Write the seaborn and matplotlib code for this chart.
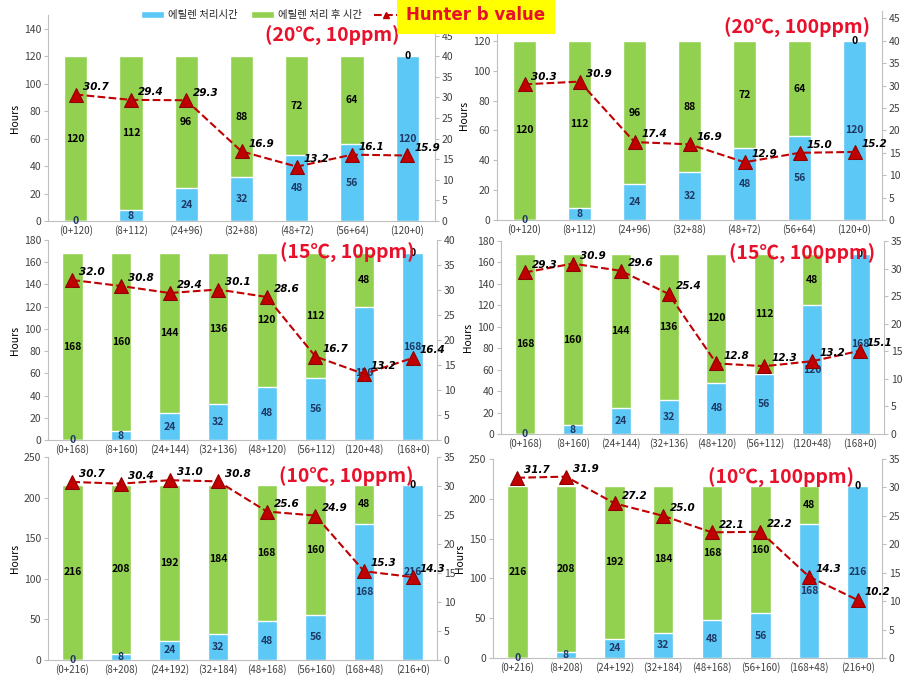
import numpy as np
import pandas as pd
import matplotlib
matplotlib.use("Agg")
import matplotlib.pyplot as plt
import seaborn as sns
from matplotlib.patches import Patch
from matplotlib.lines import Line2D

sns.set_style("white")
plt.rcParams["font.family"] = ["Noto Sans CJK KR", "DejaVu Sans"]

BLUE = "#5BC8F5"
GREEN = "#92D050"
RED = "#C00000"
GRAY = "#404040"

# --- data ---
cats_120 = ["(0+120)", "(8+112)", "(24+96)", "(32+88)", "(48+72)", "(56+64)", "(120+0)"]
eth_120 = [0, 8, 24, 32, 48, 56, 120]
post_120 = [120, 112, 96, 88, 72, 64, 0]

cats_168 = ["(0+168)", "(8+160)", "(24+144)", "(32+136)", "(48+120)", "(56+112)", "(120+48)", "(168+0)"]
eth_168 = [0, 8, 24, 32, 48, 56, 120, 168]
post_168 = [168, 160, 144, 136, 120, 112, 48, 0]

cats_216 = ["(0+216)", "(8+208)", "(24+192)", "(32+184)", "(48+168)", "(56+160)", "(168+48)", "(216+0)"]
eth_216 = [0, 8, 24, 32, 48, 56, 168, 216]
post_216 = [216, 208, 192, 184, 168, 160, 48, 0]

b_20_10 = [30.7, 29.4, 29.3, 16.9, 13.2, 16.1, 15.9]
b_20_100 = [30.3, 30.9, 17.4, 16.9, 12.9, 15.0, 15.2]
b_15_10 = [32.0, 30.8, 29.4, 30.1, 28.6, 16.7, 13.2, 16.4]
b_15_100 = [29.3, 30.9, 29.6, 25.4, 12.8, 12.3, 13.2, 15.1]
b_10_10 = [30.7, 30.4, 31.0, 30.8, 25.6, 24.9, 15.3, 14.3]
b_10_100 = [31.7, 31.9, 27.2, 25.0, 22.1, 22.2, 14.3, 10.2]

W, H = 914, 694


def rect(l, t, r, b):
    return [l / W, 1 - b / H, (r - l) / W, (b - t) / H]


panels = [
    dict(title="(20℃, 10ppm)", cats=cats_120, eth=eth_120, post=post_120, b=b_20_10,
         rect=rect(48, 15, 435, 221), ylim=150, yticks=range(0, 141, 20),
         y2lim=50, y2ticks=range(0, 46, 5), tpos=(0.734, 0.90)),
    dict(title="(20℃, 100ppm)", cats=cats_120, eth=eth_120, post=post_120, b=b_20_100,
         rect=rect(497, 11, 882, 220), ylim=140, yticks=range(0, 121, 20),
         y2lim=140 / 3, y2ticks=range(0, 46, 5), tpos=(0.779, 0.92)),
    dict(title="(15℃, 10ppm)", cats=cats_168, eth=eth_168, post=post_168, b=b_15_10,
         rect=rect(48, 240, 437, 440), ylim=180, yticks=range(0, 181, 20),
         y2lim=40, y2ticks=range(0, 41, 5), tpos=(0.769, 0.935)),
    dict(title="(15℃, 100ppm)", cats=cats_168, eth=eth_168, post=post_168, b=b_15_100,
         rect=rect(501, 241, 884, 434), ylim=180, yticks=range(0, 181, 20),
         y2lim=35, y2ticks=range(0, 36, 5), tpos=(0.786, 0.935)),
    dict(title="(10℃, 10ppm)", cats=cats_216, eth=eth_216, post=post_216, b=b_10_10,
         rect=rect(48, 457, 437, 660), ylim=250, yticks=range(0, 251, 50),
         y2lim=35, y2ticks=range(0, 36, 5), tpos=(0.766, 0.90)),
    dict(title="(10℃, 100ppm)", cats=cats_216, eth=eth_216, post=post_216, b=b_10_100,
         rect=rect(493, 459, 882, 658), ylim=250, yticks=range(0, 251, 50),
         y2lim=35, y2ticks=range(0, 36, 5), tpos=(0.74, 0.905)),
]

fig = plt.figure(figsize=(W / 100, H / 100), dpi=100)

for p in panels:
    ax = fig.add_axes(p["rect"])
    df = pd.DataFrame({"cat": p["cats"], "eth": p["eth"], "post": p["post"]})
    df["total"] = df["eth"] + df["post"]
    n = len(df)

    sns.barplot(data=df, x="cat", y="total", color=GREEN, width=0.42,
                saturation=1, errorbar=None, ax=ax)
    sns.barplot(data=df, x="cat", y="eth", color=BLUE, width=0.42,
                saturation=1, errorbar=None, ax=ax)

    for i, (e, g) in enumerate(zip(df["eth"], df["post"])):
        ax.text(i, e / 2, str(e), ha="center", va="center", fontsize=7.5,
                fontweight="bold", color="#1F3864")
        ax.text(i, e + g / 2, str(g), ha="center", va="center", fontsize=7.5,
                fontweight="bold", color="black")

    ax.set_ylim(0, p["ylim"])
    ax.set_yticks(list(p["yticks"]))
    ax.set_xlabel("")
    ax.set_ylabel("Hours", fontsize=7.5, color="black", labelpad=3)
    ax.tick_params(axis="x", length=0, labelsize=7, labelcolor=GRAY, pad=3)
    ax.tick_params(axis="y", length=3, color="#BFBFBF", labelsize=7.5,
                   labelcolor=GRAY, pad=2)
    for s in ["top", "right"]:
        ax.spines[s].set_visible(False)
    for s in ["left", "bottom"]:
        ax.spines[s].set_color("#BFBFBF")

    ax2 = ax.twinx()
    sns.lineplot(x=np.arange(n), y=p["b"], ax=ax2, color=RED, linestyle="--",
                 linewidth=1.5, marker="^", markersize=10, markerfacecolor=RED,
                 markeredgecolor="#8B0000")
    for i, v in enumerate(p["b"]):
        ax2.annotate(f"{v:.1f}", (i, v), xytext=(5, 2), textcoords="offset points",
                     fontsize=7.5, fontweight="bold", fontstyle="italic",
                     family="DejaVu Sans", ha="left", va="bottom", color="black")
    ax2.set_ylim(0, p["y2lim"])
    ax2.set_yticks(list(p["y2ticks"]))
    ax2.tick_params(axis="y", length=3, color="#BFBFBF", labelsize=7.5,
                    labelcolor=GRAY, pad=2)
    for s in ["top", "left", "bottom"]:
        ax2.spines[s].set_visible(False)
    ax2.spines["right"].set_color("#BFBFBF")
    ax.set_xlim(-0.5, n - 0.5)

    ax.text(p["tpos"][0], p["tpos"][1], p["title"], transform=ax.transAxes,
            ha="center", va="center", fontsize=14, fontweight="bold",
            color="#E8102A", zorder=10)

handles = [
    Patch(facecolor=BLUE),
    Patch(facecolor=GREEN),
    Line2D([0], [0], color=RED, linestyle="--", marker="^", markersize=5,
           markerfacecolor=RED),
]
fig.legend(handles, ["에틸렌 처리시간", "에틸렌 처리 후 시간", ""],
           loc="center left", bbox_to_anchor=(132 / W, 1 - 15 / H), ncol=3,
           frameon=False, fontsize=7.5, handlelength=2.2, handleheight=0.6,
           columnspacing=1.2, handletextpad=0.4)

fig.text(476 / W, 1 - 15 / H, "Hunter b value", ha="center", va="center",
         fontsize=12, fontweight="bold", color="#E8102A", family="DejaVu Sans",
         bbox=dict(facecolor="#FFFF00", edgecolor="none", pad=7), zorder=20)

fig.savefig("out.png", dpi=100)
